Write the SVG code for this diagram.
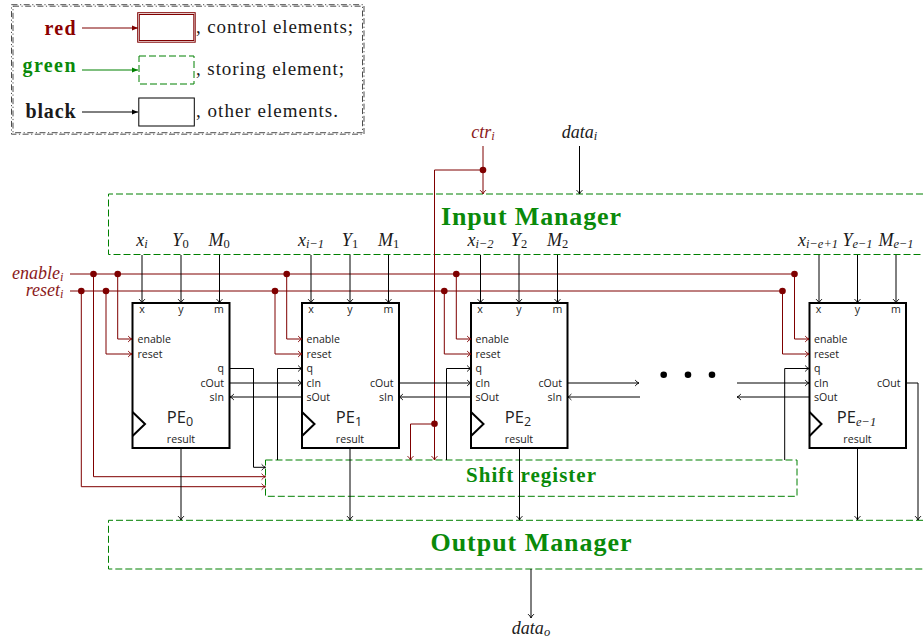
<svg xmlns="http://www.w3.org/2000/svg" width="923" height="641" viewBox="0 0 923 641">
<style>
text{font-family:"Liberation Serif",serif;fill:#1a1a1a}
.s{font-family:"Open Sans","Noto Sans",sans-serif;font-size:10.6px;fill:#222}
.e{text-anchor:end}.m{text-anchor:middle}
.v{font-style:italic;font-size:18px;text-anchor:middle}
.r{fill:#8b1a1a}
.pe{font-family:"Open Sans",sans-serif;font-size:16.500px;fill:#222;text-anchor:middle}
.b{font-weight:bold;fill:#0a8a0a;text-anchor:middle}
.lg{font-size:19px}
.lb{font-weight:bold;font-size:20px;text-anchor:end}
.box{fill:#fff;stroke:#000;stroke-width:2}
.g{fill:none;stroke:#008000;stroke-width:1;stroke-dasharray:7 3}
.k{fill:none;stroke:#000;stroke-width:1}
.d{fill:none;stroke:#7f0000;stroke-width:1}
.a{marker-end:url(#ak)}
.ar{marker-end:url(#ar)}
.dot{fill:#7f0000}
.sub{font-size:12.500px}
.clk{fill:none;stroke:#000;stroke-width:2}
</style>
<defs>
<marker id="ak" viewBox="0 0 6 8" refX="5.400" refY="4" markerWidth="6" markerHeight="8" markerUnits="userSpaceOnUse" orient="auto"><path d="M1.500 1Q3.500 3.400 5.400 4Q3.500 4.600 1.500 7" fill="none" stroke="#000" stroke-width=".9"/></marker>
<marker id="ar" viewBox="0 0 6 8" refX="5.400" refY="4" markerWidth="6" markerHeight="8" markerUnits="userSpaceOnUse" orient="auto"><path d="M1.500 1Q3.500 3.400 5.400 4Q3.500 4.600 1.500 7" fill="none" stroke="#7f0000" stroke-width=".9"/></marker>
<marker id="lk" viewBox="0 0 6 6" refX="6" refY="3" markerWidth="6" markerHeight="6" markerUnits="userSpaceOnUse" orient="auto"><path d="M0 .6L6 3L0 5.400Z" fill="#000"/></marker>
<marker id="lr" viewBox="0 0 6 6" refX="6" refY="3" markerWidth="6" markerHeight="6" markerUnits="userSpaceOnUse" orient="auto"><path d="M0 .6L6 3L0 5.400Z" fill="#7f0000"/></marker>
<marker id="lg" viewBox="0 0 6 6" refX="6" refY="3" markerWidth="6" markerHeight="6" markerUnits="userSpaceOnUse" orient="auto"><path d="M0 .6L6 3L0 5.400Z" fill="#008000"/></marker>
</defs>
<rect width="923" height="641" fill="#fff"/>

<g id="legend">
<g fill="none" stroke="#000" stroke-width=".7" stroke-dasharray="6 2.500 1.200 2.500">
<rect x="11.500" y="4.700" width="352.500" height="129.500"/>
<rect x="13" y="6.200" width="349.500" height="126.500"/>
</g>
<text class="lb" x="75.500" y="35" textLength="31" style="fill:#8b0000">red</text>
<text class="lb" x="75.500" y="72" textLength="53" style="fill:#0a8a0a">green</text>
<text class="lb" x="75.500" y="118" textLength="50">black</text>
<path d="M82 28H138" stroke="#7f0000" fill="none" marker-end="url(#lr)"/>
<path d="M82 70H138" stroke="#008000" fill="none" marker-end="url(#lg)"/>
<path d="M82 112H138" stroke="#000" fill="none" marker-end="url(#lk)"/>
<rect x="137.700" y="12.700" width="57.500" height="29.500" fill="none" stroke="#7f0000"/>
<rect x="139.300" y="14.500" width="54.500" height="26" fill="none" stroke="#7f0000"/>
<rect x="139" y="56" width="55" height="28" class="g"/>
<rect x="138.800" y="98" width="55.500" height="28" class="k"/>
<text class="lg" x="196" y="33" textLength="157">, control elements;</text>
<text class="lg" x="196" y="75" textLength="148">, storing element;</text>
<text class="lg" x="196" y="117" textLength="142">, other elements.</text>
</g>

<g id="input-manager">
<path class="g" d="M923 194H108.500V254.500H923"/>
<text class="b" x="531" y="225" font-size="26" textLength="180">Input Manager</text>
</g>
<g id="shift-register">
<rect class="g" x="265.500" y="460" width="531.500" height="36.300"/>
<text class="b" x="531" y="482" font-size="21" textLength="130">Shift register</text>
</g>
<g id="output-manager">
<path class="g" d="M923 520.300H108.500V569H923"/>
<text class="b" x="531" y="551" font-size="26" textLength="201">Output Manager</text>
</g>

<g id="pe0">
<rect class="box" x="132.500" y="303" width="97" height="145"/>
<path class="clk" d="M132.500 412L145 424L132.500 436"/>
<text class="s m" x="142" y="313">x</text><text class="s m" x="181" y="313">y</text><text class="s m" x="219" y="313">m</text>
<text class="s" x="137.500" y="343">enable</text><text class="s" x="137.500" y="358">reset</text>
<text class="s e" x="224" y="372">q</text><text class="s e" x="224" y="387">cOut</text><text class="s e" x="224" y="401">sIn</text>
<text class="pe" x="180" y="423">PE<tspan class="sub" dy="3">0</tspan></text>
<text class="s m" x="181" y="443">result</text>
</g>
<g id="pe1">
<rect class="box" x="302" y="303" width="97" height="145"/>
<path class="clk" d="M302 412L314.500 424L302 436"/>
<text class="s m" x="311" y="313">x</text><text class="s m" x="350" y="313">y</text><text class="s m" x="388.500" y="313">m</text>
<text class="s" x="306.500" y="343">enable</text><text class="s" x="306.500" y="358">reset</text>
<text class="s" x="306.500" y="372">q</text><text class="s" x="306.500" y="387">cIn</text><text class="s" x="306.500" y="401">sOut</text>
<text class="s e" x="393.500" y="387">cOut</text><text class="s e" x="393.500" y="401">sIn</text>
<text class="pe" x="349" y="423">PE<tspan class="sub" dy="3">1</tspan></text>
<text class="s m" x="350" y="443">result</text>
</g>
<g id="pe2">
<rect class="box" x="471" y="303" width="96.500" height="145"/>
<path class="clk" d="M471 412L483.500 424L471 436"/>
<text class="s m" x="480" y="313">x</text><text class="s m" x="519" y="313">y</text><text class="s m" x="557.500" y="313">m</text>
<text class="s" x="475.500" y="343">enable</text><text class="s" x="475.500" y="358">reset</text>
<text class="s" x="475.500" y="372">q</text><text class="s" x="475.500" y="387">cIn</text><text class="s" x="475.500" y="401">sOut</text>
<text class="s e" x="562" y="387">cOut</text><text class="s e" x="562" y="401">sIn</text>
<text class="pe" x="518" y="423">PE<tspan class="sub" dy="3">2</tspan></text>
<text class="s m" x="519" y="443">result</text>
</g>
<g id="pe-e1">
<rect class="box" x="809.500" y="303" width="96.500" height="145"/>
<path class="clk" d="M809.500 412L821.500 424L809.500 436"/>
<text class="s m" x="818.500" y="313">x</text><text class="s m" x="857.500" y="313">y</text><text class="s m" x="896" y="313">m</text>
<text class="s" x="814" y="343">enable</text><text class="s" x="814" y="358">reset</text>
<text class="s" x="814" y="372">q</text><text class="s" x="814" y="387">cIn</text><text class="s" x="814" y="401">sOut</text>
<text class="s e" x="900.500" y="387">cOut</text>
<text class="pe" x="856.500" y="423">PE<tspan class="sub" font-family="Liberation Serif" font-style="italic" dy="3">e−1</tspan></text>
<text class="s m" x="857.500" y="443">result</text>
</g>

<g id="connectors">
<path class="d ar" d="M483 146V194"/>
<path class="k a" d="M579.500 146V194"/>
<path class="d ar" d="M483 170H434.500V460"/>
<path class="d ar" d="M434.500 424H410.500V460"/>
<path class="d" d="M70 274H794.500"/>
<path class="d" d="M70 291H782.500"/>
<path class="d ar" d="M93.500 274V476.700H265.500"/>
<path class="d ar" d="M81.300 291V486.700H265.500"/>
<path class="d ar" d="M117.700 274V339H132"/>
<path class="d ar" d="M106 291V354H132"/>
<path class="d ar" d="M286.700 274V339H302"/>
<path class="d ar" d="M275 291V354H302"/>
<path class="d ar" d="M456.300 274V339H471"/>
<path class="d ar" d="M444.300 291V354H471"/>
<path class="d ar" d="M794.500 274V339H809"/>
<path class="d ar" d="M782.500 291V354H809"/>
<path class="k a" d="M142 255V303"/><path class="k a" d="M181 255V303"/><path class="k a" d="M219.500 255V303"/>
<path class="k a" d="M311 255V303"/><path class="k a" d="M350 255V303"/><path class="k a" d="M388.500 255V303"/>
<path class="k a" d="M480.500 255V303"/><path class="k a" d="M519 255V303"/><path class="k a" d="M557.500 255V303"/>
<path class="k a" d="M819 255V303"/><path class="k a" d="M857.500 255V303"/><path class="k a" d="M896 255V303"/>
<path class="k a" d="M230 383H302"/>
<path class="k a" d="M302 397H230"/>
<path class="k a" d="M399 383H471"/>
<path class="k a" d="M471 397H399"/>
<path class="k a" d="M567 383H639"/>
<path class="k a" d="M640 397H567.500"/>
<path class="k a" d="M737 383H809"/>
<path class="k a" d="M809 397H737"/>
<path class="k a" d="M230 368.500H253.500V467.300H265.500"/>
<path class="k a" d="M277.500 460V368.500H302"/>
<path class="k a" d="M446.500 460V368.500H471"/>
<path class="k a" d="M784.700 460V368.500H809"/>
<path class="k a" d="M181 448V520"/><path class="k a" d="M350 448V520"/><path class="k a" d="M519.500 448V520"/><path class="k a" d="M857.500 448V520"/>
<path class="k a" d="M906 383H918V520"/>
<path class="k a" d="M531 569V618"/>
</g>

<g id="junctions">
<circle class="dot" cx="93.500" cy="274" r="3.300"/><circle class="dot" cx="117.700" cy="274" r="3.300"/><circle class="dot" cx="286.700" cy="274" r="3.300"/><circle class="dot" cx="456.300" cy="274" r="3.300"/><circle class="dot" cx="794.500" cy="274" r="3.300"/>
<circle class="dot" cx="81.300" cy="291" r="3.300"/><circle class="dot" cx="106" cy="291" r="3.300"/><circle class="dot" cx="275" cy="291" r="3.300"/><circle class="dot" cx="444.300" cy="291" r="3.300"/><circle class="dot" cx="782.500" cy="291" r="3.300"/>
<circle class="dot" cx="483" cy="170" r="3.300"/><circle class="dot" cx="434.500" cy="423.700" r="3.300"/>
</g>
<g id="ellipsis" fill="#000"><circle cx="663.700" cy="374.700" r="3.300"/><circle cx="688" cy="374.700" r="3.300"/><circle cx="712" cy="374.700" r="3.300"/></g>

<g id="labels">
<text class="v r" x="63.500" y="279" style="text-anchor:end">enable<tspan class="sub" dy="2">i</tspan></text>
<text class="v r" x="63.500" y="296" style="text-anchor:end">reset<tspan class="sub" dy="2">i</tspan></text>
<text class="v r" x="483" y="138">ctr<tspan class="sub" dy="2">i</tspan></text>
<text class="v" x="579.500" y="138">data<tspan class="sub" dy="2">i</tspan></text>
<text class="v" x="531" y="634">data<tspan class="sub" dy="2">o</tspan></text>
<text class="v" x="142" y="246">x<tspan class="sub" dy="2">i</tspan></text>
<text class="v" x="180.500" y="246">Y<tspan class="sub" font-style="normal" dy="2">0</tspan></text>
<text class="v" x="219" y="246">M<tspan class="sub" font-style="normal" dy="2">0</tspan></text>
<text class="v" x="311" y="246">x<tspan class="sub" dy="2">i−1</tspan></text>
<text class="v" x="350" y="246">Y<tspan class="sub" font-style="normal" dy="2">1</tspan></text>
<text class="v" x="388.500" y="246">M<tspan class="sub" font-style="normal" dy="2">1</tspan></text>
<text class="v" x="480.500" y="246">x<tspan class="sub" dy="2">i−2</tspan></text>
<text class="v" x="519" y="246">Y<tspan class="sub" font-style="normal" dy="2">2</tspan></text>
<text class="v" x="557.500" y="246">M<tspan class="sub" font-style="normal" dy="2">2</tspan></text>
<text class="v" x="818" y="246">x<tspan class="sub" dy="2">i−e+1</tspan></text>
<text class="v" x="857.500" y="246">Y<tspan class="sub" dy="2">e−1</tspan></text>
<text class="v" x="896" y="246">M<tspan class="sub" dy="2">e−1</tspan></text>
</g>
</svg>
